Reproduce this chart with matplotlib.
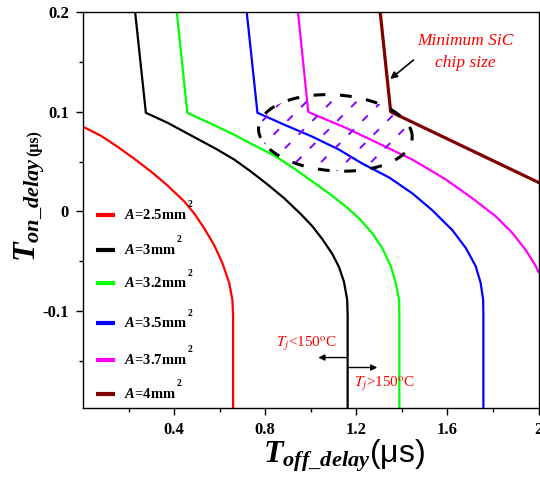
import numpy as np
import matplotlib
matplotlib.use("Agg")
import matplotlib.pyplot as plt
from matplotlib.patches import Polygon
from matplotlib.ticker import FixedLocator, FuncFormatter

plt.rcParams['mathtext.fontset'] = 'custom'
plt.rcParams['mathtext.it'] = 'Liberation Serif:italic:bold'
plt.rcParams['mathtext.rm'] = 'Liberation Serif:bold'
plt.rcParams['mathtext.bf'] = 'Liberation Serif:bold'
plt.rcParams['lines.scale_dashes'] = False

# chip area (mm^2) and colour of each curve
areas = [2.5, 3, 3.2, 3.5, 3.7, 4]
colors = ['#FF0000', '#000000', '#00FF00', '#0000FF', '#FF00FF', '#800000']
widths = [1.6, 1.6, 1.6, 1.6, 1.6, 2.3]

# T_off_delay / T_on_delay (us) for each area
toff_25 = [0.0, 0.078, 0.151, 0.224, 0.298, 0.371, 0.444, 0.488, 0.532, 0.576,
           0.612, 0.642, 0.656, 0.659, 0.659]
ton_25 = [0.085, 0.076, 0.065, 0.053, 0.040, 0.026, 0.010, -0.002, -0.017, -0.034,
          -0.052, -0.072, -0.089, -0.105, -0.198]

toff_30 = [0.229, 0.276, 0.371, 0.444, 0.517, 0.590, 0.664, 0.737, 0.810, 0.884,
           0.957, 1.007, 1.051, 1.095, 1.124, 1.146, 1.160, 1.162, 1.162]
ton_30 = [0.2, 0.099, 0.089, 0.080, 0.071, 0.062, 0.052, 0.040, 0.027, 0.013,
          -0.003, -0.015, -0.028, -0.043, -0.056, -0.071, -0.089, -0.105, -0.198]

toff_32 = [0.412, 0.458, 0.590, 0.664, 0.737, 0.840, 0.927, 1.007, 1.080, 1.153,
           1.212, 1.270, 1.314, 1.351, 1.373, 1.388, 1.389, 1.389]
ton_32 = [0.2, 0.099, 0.085, 0.077, 0.068, 0.056, 0.043, 0.030, 0.018, 0.005,
          -0.007, -0.022, -0.037, -0.055, -0.072, -0.089, -0.105, -0.198]

toff_35 = [0.719, 0.766, 0.884, 1.007, 1.124, 1.226, 1.344, 1.446, 1.534, 1.622,
           1.681, 1.724, 1.746, 1.757, 1.758, 1.758]
ton_35 = [0.2, 0.099, 0.087, 0.075, 0.062, 0.048, 0.034, 0.018, 0.001, -0.019,
          -0.037, -0.055, -0.072, -0.089, -0.105, -0.198]

toff_37 = [0.944, 0.989, 1.007, 1.153, 1.300, 1.446, 1.593, 1.710, 1.812, 1.886,
           1.944, 1.988, 2.0]
ton_37 = [0.2, 0.1, 0.098, 0.084, 0.068, 0.052, 0.032, 0.013, -0.005, -0.022,
          -0.039, -0.055, -0.061]

toff_40 = [1.305, 1.351, 2.0]
ton_40 = [0.2, 0.1, 0.029]

curves = [(toff_25, ton_25), (toff_30, ton_30), (toff_32, ton_32),
          (toff_35, ton_35), (toff_37, ton_37), (toff_40, ton_40)]

# highlighted region (pixel-sized ellipse around the knees)
region_center = (1.108, 0.0788)
region_axes_px = (77, 38)
region_tilt = -4.0

fig = plt.figure(figsize=(5.4, 4.78), dpi=100)
ax = fig.add_axes([83 / 540, (478 - 408.3) / 478, 455.5 / 540, 396 / 478])

for (x, y), c, lw in zip(curves, colors, widths):
    ax.plot(x, y, color=c, lw=lw, solid_joinstyle='round')

ax.set_xlim(0, 2.0)
ax.set_ylim(-0.198, 0.2)
ax.xaxis.set_major_locator(FixedLocator([0.4, 0.8, 1.2, 1.6, 2.0]))
ax.xaxis.set_minor_locator(FixedLocator([0.2, 0.6, 1.0, 1.4, 1.8]))
ax.yaxis.set_major_locator(FixedLocator([-0.1, 0, 0.1, 0.2]))
ax.yaxis.set_minor_locator(FixedLocator([-0.15, -0.05, 0.05, 0.15]))
fmt = FuncFormatter(lambda v, p: '%g' % round(v, 3))
ax.xaxis.set_major_formatter(fmt)
ax.yaxis.set_major_formatter(fmt)
ax.tick_params(which='both', direction='out', top=False, right=False, width=1.0)
ax.tick_params(which='major', length=5)
ax.tick_params(which='minor', length=3)
ax.tick_params(axis='x', pad=5)
ax.tick_params(axis='y', pad=5)
for lab in ax.get_xticklabels() + ax.get_yticklabels():
    lab.set_fontfamily('Liberation Serif')
    lab.set_fontweight('bold')
    lab.set_fontsize(12)
for sp in ax.spines.values():
    sp.set_linewidth(1.0)

# ellipse and hatch are built in pixel space then mapped back to data
to_px = ax.transData
to_data = ax.transData.inverted()
cx, cy = to_px.transform(region_center)
a, b = region_axes_px
th = np.deg2rad(region_tilt)
t = np.linspace(0, 2 * np.pi, 200)
ex = a * np.cos(t)
ey = b * np.sin(t)
px = cx + ex * np.cos(th) - ey * np.sin(th)
py = cy + ex * np.sin(th) + ey * np.cos(th)
ell = to_data.transform(np.column_stack([px, py]))
clip = Polygon(ell, closed=True, transform=ax.transData)

for off in np.arange(-a - 2 * b, a + b, 25):
    p0 = to_data.transform([[cx + off, cy - b - 5]])[0]
    p1 = to_data.transform([[cx + off + 2 * b + 10, cy + b + 5]])[0]
    ln, = ax.plot([p0[0], p1[0]], [p0[1], p1[1]], color='#8000FF', lw=1.4,
                  dashes=(5.5, 8.5))
    ln.set_clip_path(clip)

ax.plot(ell[:, 0], ell[:, 1], color='black', lw=2.2, dashes=(8.5, 10.5))

# legend drawn by hand so the superscript sits high
leg_y = [0.488, 0.400, 0.316, 0.215, 0.122, 0.036]
for area, c, yy in zip(areas, colors, leg_y):
    ax.plot([0.0285, 0.070], [yy, yy], color=c, lw=3, transform=ax.transAxes,
            solid_capstyle='butt')
    tx = ax.text(0.090, yy, '$A$=%gmm' % area, transform=ax.transAxes,
                 fontfamily='Liberation Serif', fontweight='bold', fontsize=10.5,
                 ha='left', va='center')
    ax.annotate('2', xy=(1, 1), xycoords=tx, xytext=(0.5, -1),
                textcoords='offset points', fontfamily='Liberation Serif',
                fontweight='bold', fontsize=7, ha='left', va='bottom')

# annotations
ax.text(1.679, 0.160, 'Minimum SiC\nchip size', color='red', fontsize=12.5,
        fontfamily='Liberation Serif', style='italic', ha='center', va='center',
        linespacing=1.45)
ax.annotate('', xy=(1.349, 0.133), xytext=(1.451, 0.152),
            arrowprops=dict(arrowstyle='-|>', color='black', lw=1.2,
                            mutation_scale=10, shrinkA=0, shrinkB=0))

ax.annotate('', xy=(1.033, -0.147), xytext=(1.160, -0.147),
            arrowprops=dict(arrowstyle='-|>', color='black', lw=1.0,
                            mutation_scale=9, shrinkA=0, shrinkB=0))
ax.annotate('', xy=(1.292, -0.157), xytext=(1.169, -0.157),
            arrowprops=dict(arrowstyle='-|>', color='black', lw=1.0,
                            mutation_scale=9, shrinkA=0, shrinkB=0))
for xx, yy, s in [(0.98, -0.136, '<'), (1.325, -0.176, '>')]:
    tj = ax.text(xx, yy, r'$T_j$' + s + r'150${}^{\rm o}$C', color='red',
                 fontsize=11, fontfamily='Liberation Serif',
                 ha='center', va='baseline')
    tj.set_math_fontfamily('stix')

# axis titles
fig.text(263 / 540, 1 - 462 / 478, r'$T_{off\_delay}$(μs)', fontsize=23,
         fontfamily='Liberation Sans', ha='left', va='baseline')
ty = fig.text(30 / 540, 1 - 262 / 478, r'$T_{on\_delay}$', fontsize=23,
              rotation=90, ha='center', va='bottom')
ax.annotate('(μs)', xy=(0.62, 1), xycoords=ty, xytext=(0, 1),
            textcoords='offset points', fontsize=11.5,
            fontfamily='Liberation Serif', fontweight='bold', rotation=90,
            ha='center', va='bottom', annotation_clip=False)

fig.savefig('out.png', dpi=100)
